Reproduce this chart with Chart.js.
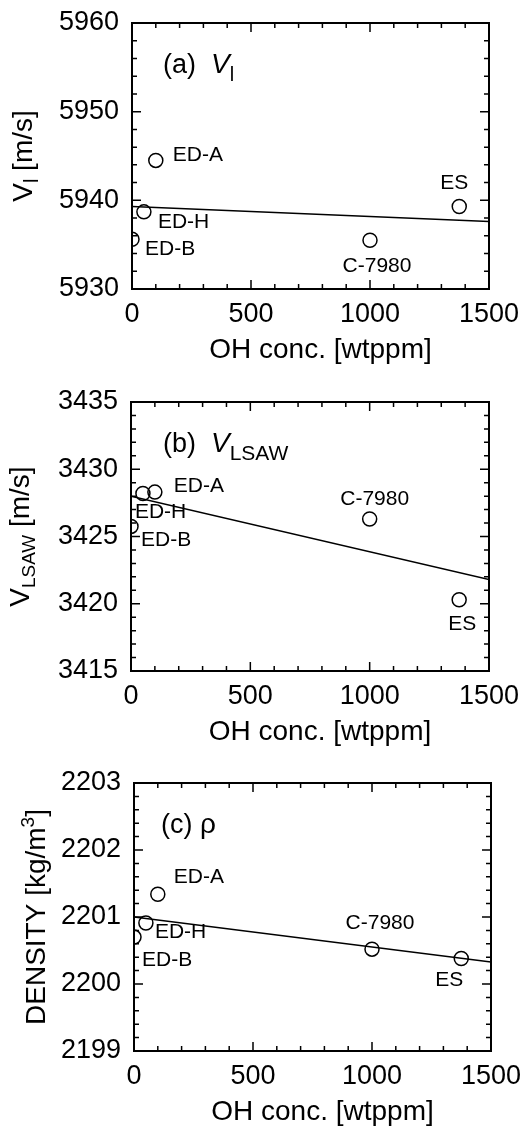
<!DOCTYPE html>
<html lang="en">
<head>
    <meta charset="UTF-8">
    <title>OH concentration dependence</title>
    <script src="https://cdn.jsdelivr.net/npm/chart.js"></script>
    <style>
        body { margin: 0; background: #fff; }
        .panel { position: absolute; left: 0; width: 523px; }
    </style>
</head>
<body>
    <div class="panel" style="top:0px;height:372px"><canvas id="chartA" width="523" height="372"></canvas></div>
    <div class="panel" style="top:372px;height:378px"><canvas id="chartB" width="523" height="378"></canvas></div>
    <div class="panel" style="top:750px;height:379px"><canvas id="chartC" width="523" height="379"></canvas></div>

    <script>
        // sample data
        const sampleNames = ['ED-B', 'ED-H', 'ED-A', 'C-7980', 'ES'];
        const ohConc = [0, 50, 100, 1000, 1375];
        const vlValues = [5935.6, 5938.7, 5944.5, 5935.5, 5939.3];
        const vlsawValues = [3425.75, 3428.2, 3428.3, 3426.3, 3420.3];
        const densityValues = [2200.70, 2200.91, 2201.34, 2200.52, 2200.38];

        // fitted straight lines (end points)
        const fitX = [0, 1500];
        const vlFit = [5939.3, 5937.6];
        const vlsawFit = [3428.0, 3421.8];
        const densityFit = [2201.0, 2200.33];

        // axis ranges / ticks
        const xRange = [0, 1500];
        const xStep = 500;
        const vlRange = [5930, 5960];
        const vlsawRange = [3415, 3435];
        const densityRange = [2199, 2203];

        const FONT = '"Liberation Sans", Arial, Helvetica, sans-serif';
        Chart.defaults.font.family = FONT;
        Chart.defaults.color = '#000';

        function setFont(ctx, size, italic) {
            ctx.font = (italic ? 'italic ' : '') + size + 'px ' + FONT;
        }

        function runsWidth(ctx, runs) {
            let w = 0;
            runs.forEach(r => { setFont(ctx, r.size, r.italic); w += ctx.measureText(r.t).width; });
            return w;
        }

        function drawRuns(ctx, runs, x, y) {
            let cx = x;
            runs.forEach(r => {
                setFont(ctx, r.size, r.italic);
                ctx.fillText(r.t, cx, y + (r.dy || 0));
                cx += ctx.measureText(r.t).width;
            });
        }

        // frame, inward ticks, titles and sample labels
        const decoPlugin = {
            id: 'deco',
            afterDatasetsDraw(chart, args, opts) {
                const ctx = chart.ctx;
                const area = chart.chartArea;
                const xs = chart.scales.x, ys = chart.scales.y;
                ctx.save();
                ctx.strokeStyle = '#000';
                ctx.fillStyle = '#000';

                // ticks on all four sides
                ctx.lineWidth = 1.5;
                ctx.beginPath();
                const nx = Math.round((xs.max - xs.min) / opts.xMinor);
                for (let i = 0; i <= nx; i++) {
                    const v = xs.min + i * opts.xMinor;
                    const px = xs.getPixelForValue(v);
                    const len = (i % opts.xMajorEvery === 0) ? 9 : 5;
                    ctx.moveTo(px, area.bottom); ctx.lineTo(px, area.bottom - len);
                    ctx.moveTo(px, area.top); ctx.lineTo(px, area.top + len);
                }
                const ny = Math.round((ys.max - ys.min) / opts.yMinor);
                for (let i = 0; i <= ny; i++) {
                    const v = ys.min + i * opts.yMinor;
                    const py = ys.getPixelForValue(v);
                    const len = (i % opts.yMajorEvery === 0) ? 9 : 5;
                    ctx.moveTo(area.left, py); ctx.lineTo(area.left + len, py);
                    ctx.moveTo(area.right, py); ctx.lineTo(area.right - len, py);
                }
                ctx.stroke();

                // frame
                ctx.lineWidth = 2;
                ctx.strokeRect(area.left, area.top, area.right - area.left, area.bottom - area.top);

                // x title
                ctx.textBaseline = 'alphabetic';
                ctx.textAlign = 'center';
                setFont(ctx, 28);
                ctx.fillText('OH conc. [wtppm]', (area.left + area.right) / 2 + 10, area.bottom + 69);

                // y title (rotated, with sub/superscripts)
                ctx.textAlign = 'left';
                ctx.save();
                ctx.translate(opts.yTitleX, (area.top + area.bottom) / 2);
                ctx.rotate(-Math.PI / 2);
                const w = runsWidth(ctx, opts.yTitle);
                drawRuns(ctx, opts.yTitle, -w / 2, 0);
                ctx.restore();

                // panel label
                drawRuns(ctx, opts.panelLabel, opts.panelX, area.top + 50);

                // sample names next to points
                ctx.textBaseline = 'middle';
                setFont(ctx, 21);
                const pts = chart.data.datasets[opts.pointDataset].data;
                pts.forEach((p, i) => {
                    const o = opts.labelOffsets[i];
                    ctx.textAlign = o.align;
                    ctx.fillText(sampleNames[i], xs.getPixelForValue(p.x) + o.dx, ys.getPixelForValue(p.y) + o.dy);
                });
                ctx.restore();
            }
        };

        function noPad(s) {
            s.paddingTop = 0; s.paddingBottom = 0; s.paddingLeft = 0; s.paddingRight = 0;
        }

        function makeChart(id, values, fit, yRange, yStep, yMinor, layout, deco) {
            const pts = ohConc.map((x, i) => ({ x: x, y: values[i] }));
            const line = fitX.map((x, i) => ({ x: x, y: fit[i] }));
            return new Chart(document.getElementById(id), {
                type: 'scatter',
                data: {
                    datasets: [
                        {
                            type: 'line', data: line, borderColor: '#000', borderWidth: 1.5,
                            pointRadius: 0, fill: false, tension: 0
                        },
                        {
                            type: 'scatter', data: pts, borderColor: '#000', borderWidth: 1.5,
                            backgroundColor: 'rgba(0,0,0,0)', pointRadius: 7, pointHoverRadius: 7
                        }
                    ]
                },
                options: {
                    responsive: false,
                    animation: false,
                    devicePixelRatio: 1,
                    layout: { padding: { left: 0, right: layout.right, top: layout.top, bottom: 0 } },
                    plugins: {
                        legend: { display: false },
                        tooltip: { enabled: false },
                        deco: Object.assign({ pointDataset: 1, xMinor: 100, xMajorEvery: 5, yMinor: yMinor, yMajorEvery: Math.round(yStep / yMinor) }, deco)
                    },
                    scales: {
                        x: {
                            type: 'linear', min: xRange[0], max: xRange[1],
                            grid: { display: false, drawTicks: false },
                            border: { display: false },
                            ticks: {
                                stepSize: xStep, font: { size: 27 }, padding: 9, autoSkip: false, maxRotation: 0,
                                callback: v => String(v)
                            },
                            afterFit: s => { s.height = layout.xHeight; noPad(s); }
                        },
                        y: {
                            type: 'linear', min: yRange[0], max: yRange[1],
                            grid: { display: false, drawTicks: false },
                            border: { display: false },
                            ticks: {
                                stepSize: yStep, font: { size: 27 }, padding: 13, autoSkip: false,
                                callback: v => String(v)
                            },
                            afterFit: s => { s.width = layout.yWidth; noPad(s); }
                        }
                    }
                },
                plugins: [decoPlugin]
            });
        }

        makeChart('chartA', vlValues, vlFit, vlRange, 10, 2,
            { top: 23, right: 34, xHeight: 83, yWidth: 132 },
            {
                yTitleX: 32,
                yTitle: [{ t: 'V', size: 28 }, { t: 'l', size: 20, dy: 6 }, { t: ' [m/s]', size: 28 }],
                panelX: 163,
                panelLabel: [{ t: '(a)  ', size: 27 }, { t: 'V', size: 28, italic: true }, { t: 'l', size: 20, dy: 8 }],
                labelOffsets: [
                    { align: 'left', dx: 13, dy: 10 },
                    { align: 'left', dx: 14, dy: 10 },
                    { align: 'left', dx: 17, dy: -5 },
                    { align: 'center', dx: 7, dy: 26 },
                    { align: 'center', dx: -5, dy: -23 }
                ]
            });

        makeChart('chartB', vlsawValues, vlsawFit, vlsawRange, 5, 1,
            { top: 30, right: 34, xHeight: 79, yWidth: 131 },
            {
                yTitleX: 29,
                yTitle: [{ t: 'V', size: 28 }, { t: 'LSAW', size: 19, dy: 6 }, { t: ' [m/s]', size: 28 }],
                panelX: 163,
                panelLabel: [{ t: '(b)  ', size: 27 }, { t: 'V', size: 28, italic: true }, { t: 'LSAW', size: 21, dy: 8 }],
                labelOffsets: [
                    { align: 'left', dx: 10, dy: 14 },
                    { align: 'left', dx: -8, dy: 19 },
                    { align: 'left', dx: 19, dy: -6 },
                    { align: 'center', dx: 5, dy: -20 },
                    { align: 'center', dx: 3, dy: 24 }
                ]
            });

        makeChart('chartC', densityValues, densityFit, densityRange, 1, 0.2,
            { top: 33, right: 32, xHeight: 78, yWidth: 134 },
            {
                yTitleX: 45,
                yTitle: [{ t: 'DENSITY [kg/m', size: 28 }, { t: '3', size: 19, dy: -11 }, { t: ']', size: 28 }],
                panelX: 161,
                panelLabel: [{ t: '(c) ', size: 27 }, { t: '\u03C1', size: 28 }],
                labelOffsets: [
                    { align: 'left', dx: 8, dy: 23 },
                    { align: 'left', dx: 9, dy: 9 },
                    { align: 'left', dx: 16, dy: -17 },
                    { align: 'center', dx: 8, dy: -26 },
                    { align: 'center', dx: -12, dy: 22 }
                ]
            });
    </script>
</body>
</html>
